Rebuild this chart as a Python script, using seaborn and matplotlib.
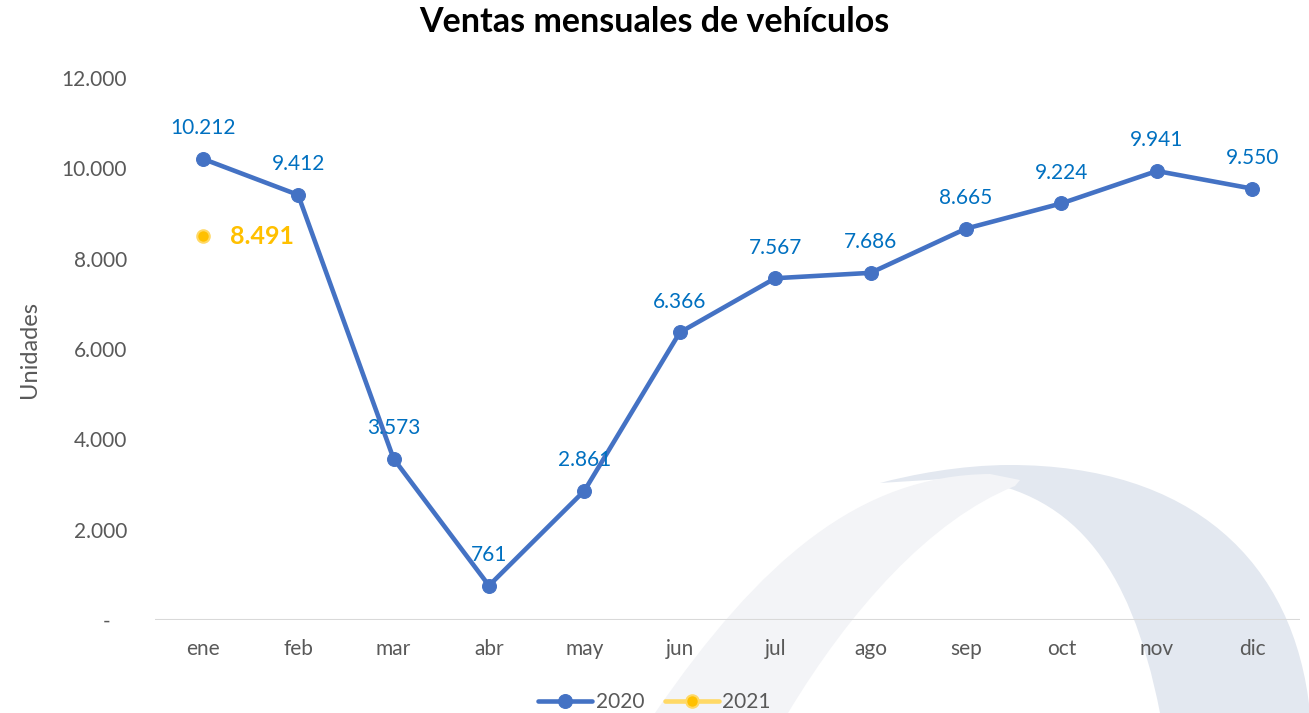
import matplotlib
matplotlib.use("Agg")
import matplotlib.pyplot as plt
import seaborn as sns
from matplotlib.path import Path
from matplotlib.patches import PathPatch

meses = ["ene", "feb", "mar", "abr", "may", "jun", "jul", "ago", "sep", "oct", "nov", "dic"]
ventas_2020 = [10212, 9412, 3573, 761, 2861, 6366, 7567, 7686, 8665, 9224, 9941, 9550]
meses_2021 = ["ene"]
ventas_2021 = [8491]
yticks = [0, 2000, 4000, 6000, 8000, 10000, 12000]

azul = "#4472C4"
azul_txt = "#0070C0"
naranja = "#FFC000"
amarillo = "#FFD966"
gris = "#595959"


def fmt(v):
    return f"{v:,}".replace(",", ".")


sns.set_style("white")
plt.rcParams["font.family"] = ["Lato", "DejaVu Sans"]

W, H = 1309, 713
fig = plt.figure(figsize=(W / 100, H / 100), dpi=100)
fig.patch.set_facecolor("white")


# decorative arcs in the background (pixel coords -> figure fraction)
def px(pts):
    return [(x / W, 1 - y / H) for x, y in pts]


C4, L2 = Path.CURVE4, Path.LINETO
dark = [(1310, 713), (1295, 560), (1190, 465), (1010, 465),
        (960, 465), (910, 475), (880, 483),
        (960, 478),
        (1070, 490), (1130, 560), (1160, 713)]
dark_codes = [Path.MOVETO, C4, C4, C4, C4, C4, C4, L2, C4, C4, C4]
light = [(655, 713), (760, 560), (860, 475), (990, 474),
         (1020, 480), (1015, 486),
         (930, 520), (850, 610), (788, 713)]
light_codes = [Path.MOVETO, C4, C4, C4, L2, L2, C4, C4, C4]
fig.add_artist(PathPatch(Path(px(dark), dark_codes), facecolor="#E3E8F0", edgecolor="none",
                         transform=fig.transFigure, zorder=-2))
fig.add_artist(PathPatch(Path(px(light), light_codes), facecolor="#F3F4F7", edgecolor="none",
                         transform=fig.transFigure, zorder=-1))

ax = fig.add_axes([155 / W, 1 - 620 / H, 1145 / W, 542 / H])
ax.set_facecolor("none")

sns.lineplot(x=meses, y=ventas_2020, ax=ax, color=azul, linewidth=3.3, marker="o",
             markersize=10, markeredgecolor=azul, sort=False, label="2020")
sns.lineplot(x=meses_2021, y=ventas_2021, ax=ax, color=amarillo, linewidth=3.3, marker="o",
             markersize=9, markerfacecolor=naranja, markeredgecolor=amarillo,
             markeredgewidth=1.5, sort=False, label="2021")

for i, v in enumerate(ventas_2020):
    ax.annotate(fmt(v), (i, v), xytext=(0, 22), textcoords="offset points",
                ha="center", va="center", fontsize=15, color=azul_txt)
for m, v in zip(meses_2021, ventas_2021):
    ax.annotate(fmt(v), (meses.index(m), v), xytext=(20, 0), textcoords="offset points",
                ha="left", va="center", fontsize=18, fontweight="bold", color=naranja)

ax.set_xlim(-0.5, 11.5)
ax.set_ylim(0, 12000)
ax.set_yticks(yticks)
ax.set_yticklabels(["-   "] + [fmt(t) for t in yticks[1:]])
ax.tick_params(axis="both", length=0, labelsize=15, labelcolor=gris)
ax.tick_params(axis="x", pad=14)
ax.tick_params(axis="y", pad=20)
for s in ax.spines.values():
    s.set_visible(False)
ax.axhline(0, color="#D9D9D9", linewidth=1.5, zorder=1)

ax.set_xlabel("")
ax.set_ylabel("Unidades", fontsize=17, color=gris, labelpad=16)

fig.text(0.5, 1 - 22 / H, "Ventas mensuales de vehículos", ha="center", va="center",
         fontsize=24.5, fontweight="bold", color="black")

ax.get_legend().remove()
handles, labels = ax.get_legend_handles_labels()
fig.legend(handles, labels, loc="lower center", bbox_to_anchor=(0.5, -0.025), ncol=2,
           frameon=False, fontsize=15, labelcolor=gris, handlelength=2.6,
           handletextpad=0.15, columnspacing=1.0)

fig.savefig("out.png", dpi=100)
